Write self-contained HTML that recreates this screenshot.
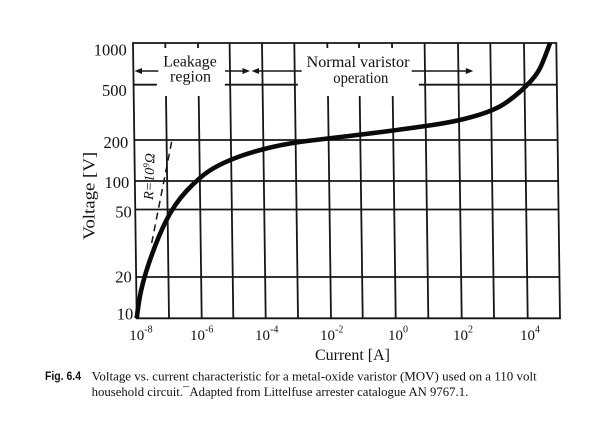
<!DOCTYPE html>
<html><head><meta charset="utf-8"><style>
html,body{margin:0;padding:0;background:#fff;}
svg{display:block;}
text{font-family:"Liberation Serif",serif;fill:#111;}
</style></head><body>
<svg width="608" height="448" viewBox="0 0 608 448" xmlns="http://www.w3.org/2000/svg">
<rect width="608" height="448" fill="#fff"/>
<g transform="matrix(1,0,0.01345,1,-4.277,0)" stroke="#161616" stroke-width="1.8" fill="none">
  <rect x="136.7" y="43" width="423.3" height="275.3"/>
  <line x1="136.7" y1="140" x2="560" y2="140"/>
  <line x1="136.7" y1="181" x2="560" y2="181"/>
  <line x1="136.7" y1="209.5" x2="560" y2="209.5"/>
  <line x1="136.7" y1="277" x2="560" y2="277"/>
  <line x1="136.7" y1="84.7" x2="160" y2="84.7"/>
  <line x1="228" y1="84.7" x2="301" y2="84.7"/>
  <line x1="422" y1="84.7" x2="560" y2="84.7"/>
  <line x1="233.3" y1="43" x2="233.3" y2="318.3"/>
  <line x1="265.7" y1="43" x2="265.7" y2="318.3"/>
  <line x1="298" y1="43" x2="298" y2="318.3"/>
  <line x1="428.3" y1="43" x2="428.3" y2="318.3"/>
  <line x1="461.7" y1="43" x2="461.7" y2="318.3"/>
  <line x1="494" y1="43" x2="494" y2="318.3"/>
  <line x1="527.7" y1="43" x2="527.7" y2="318.3"/>
  <line x1="169" y1="43" x2="169" y2="48"/><line x1="169" y1="96" x2="169" y2="318.3"/>
  <line x1="201.7" y1="43" x2="201.7" y2="48"/><line x1="201.7" y1="96" x2="201.7" y2="318.3"/>
  <line x1="331" y1="43" x2="331" y2="48"/><line x1="331" y1="96" x2="331" y2="318.3"/>
  <line x1="362.7" y1="43" x2="362.7" y2="48"/><line x1="362.7" y1="96" x2="362.7" y2="318.3"/>
  <line x1="395.7" y1="43" x2="395.7" y2="48"/><line x1="395.7" y1="96" x2="395.7" y2="318.3"/>
</g>

<g stroke="#161616" stroke-width="1.5" fill="#161616">
  <line x1="138" y1="71" x2="158.3" y2="71"/>
  <polygon points="134.5,71 142,68 142,74" stroke="none"/>
  <line x1="225" y1="71" x2="246" y2="71"/>
  <polygon points="250,71 242.5,68 242.5,74" stroke="none"/>
  <line x1="255" y1="71" x2="301.7" y2="71"/>
  <polygon points="251.5,71 259,68 259,74" stroke="none"/>
  <line x1="411.7" y1="71" x2="469" y2="71"/>
  <polygon points="473.3,71 465.8,68 465.8,74" stroke="none"/>
</g>

<line x1="151.7" y1="243" x2="172" y2="140" stroke="#161616" stroke-width="1.5" stroke-dasharray="7 5"/>

<path fill="none" stroke="#0a0a0a" stroke-width="4.6" stroke-linecap="butt" stroke-linejoin="round"
 d="M136.7,318.3 Q139,300 141,291 Q143,282 145.75,273 Q148.5,264 151.75,255 Q155,246 158.5,237.5 Q162,229 166,221 Q170,213 175,205.5 Q180,198 186.5,191 Q193,184 200.5,177.5 Q208,171 218,165.75 Q228,160.5 241.5,155.75 Q255,151 272.5,147 Q290,143 310,140.65 Q330,138.3 350,135.9 Q370,133.5 390,130.9 Q410,128.3 430,125.4 Q450,122.5 465,118.75 Q480,115 490,111 Q500,107 507,102 Q514,97 520,91.75 Q526,86.5 532,79.75 Q538,73 541.5,65 Q545,57 550,43"/>

<text x="190" y="66.5" font-size="16" text-anchor="middle" textLength="53.4" lengthAdjust="spacingAndGlyphs">Leakage</text>
<text x="190.5" y="81.5" font-size="16" text-anchor="middle" textLength="41" lengthAdjust="spacingAndGlyphs">region</text>
<text x="358" y="67" font-size="16" text-anchor="middle" textLength="103" lengthAdjust="spacingAndGlyphs">Normal varistor</text>
<text x="360.8" y="83" font-size="16" text-anchor="middle" textLength="55" lengthAdjust="spacingAndGlyphs">operation</text>

<text transform="translate(153,200) rotate(-88)" font-size="14" font-style="italic">R=10<tspan font-size="9" dy="-5">9</tspan><tspan dy="5">Ω</tspan></text>

<g font-size="16.5" text-anchor="end">
  <text x="126.7" y="55.5">1000</text>
  <text x="126.7" y="96">500</text>
  <text x="128.3" y="148">200</text>
  <text x="129.3" y="188">100</text>
  <text x="131.7" y="217.5">50</text>
  <text x="131.7" y="282.5">20</text>
  <text x="133.3" y="319.5">10</text>
</g>

<g font-size="15">
  <text x="129.3" y="340">10<tspan font-size="10" dy="-7.5">-8</tspan></text>
  <text x="190" y="340">10<tspan font-size="10" dy="-7.5">-6</tspan></text>
  <text x="255" y="340">10<tspan font-size="10" dy="-7.5">-4</tspan></text>
  <text x="320" y="340">10<tspan font-size="10" dy="-7.5">-2</tspan></text>
  <text x="388" y="340">10<tspan font-size="10" dy="-7.5">0</tspan></text>
  <text x="453" y="340">10<tspan font-size="10" dy="-7.5">2</tspan></text>
  <text x="520" y="340">10<tspan font-size="10" dy="-7.5">4</tspan></text>
</g>

<text x="315" y="360" font-size="16" textLength="75" lengthAdjust="spacingAndGlyphs">Current [A]</text>
<text transform="translate(94.5,195.8) rotate(-90)" font-size="17" text-anchor="middle" textLength="88" lengthAdjust="spacingAndGlyphs">Voltage [V]</text>

<text x="45" y="380" font-size="12" font-weight="bold" style="font-family:'Liberation Sans',sans-serif" textLength="36" lengthAdjust="spacingAndGlyphs">Fig. 6.4</text>
<text x="91.7" y="380.5" font-size="12.3" textLength="445" lengthAdjust="spacingAndGlyphs">Voltage vs. current characteristic for a metal-oxide varistor (MOV) used on a 110 volt</text>
<text x="91.7" y="396" font-size="12.3" textLength="376.6" lengthAdjust="spacingAndGlyphs">household circuit.¯Adapted from Littelfuse arrester catalogue AN 9767.1.</text>
</svg>
</body></html>
